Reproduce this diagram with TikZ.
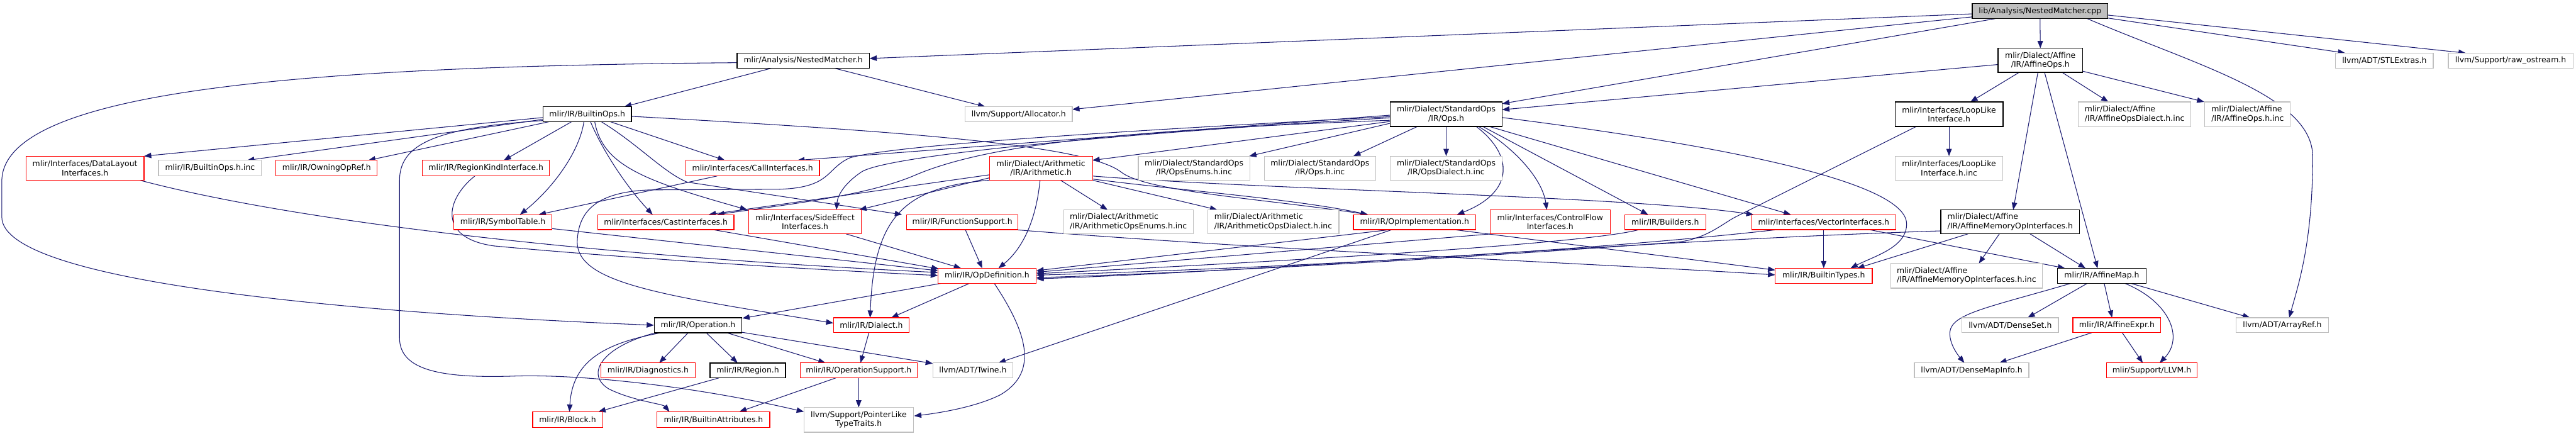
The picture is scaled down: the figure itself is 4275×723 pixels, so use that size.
\documentclass[tikz,border=0pt]{standalone}
\usepackage{fontspec}
\setmainfont{DejaVu Sans}
\usetikzlibrary{arrows.meta,calc}
\definecolor{edgec}{HTML}{191970}
\definecolor{redc}{HTML}{FF0000}
\definecolor{grayc}{HTML}{BFBFBF}
\pgfdeclarelayer{bg}
\pgfsetlayers{bg,main}
\newcommand\mknode[7]{\node[#1,minimum width=#5pt,minimum height=#6pt] (#2) at (#3,#4) {#7};}
\begin{document}
\begin{tikzpicture}[x=1pt,y=-1pt,
  box/.style={rectangle, inner sep=0pt, font=\fontsize{13}{14.7}\selectfont, fill=white},
  bbox/.style={box, draw=black, line width=1.5pt},
  rbox/.style={box, draw=redc, line width=1.2pt},
  gbox/.style={box, draw=grayc, line width=1.2pt},
  e/.style={draw=edgec, line width=1.1pt, -{Triangle[length=12pt,width=9pt]}}]
\useasboundingbox (0,0) rectangle (4275,723);

% row 0
\mknode{bbox,fill=grayc}{cpp}{3385.5}{18.5}{225}{25}{lib/Analysis/NestedMatcher.cpp}
% row 1
\mknode{bbox}{nm}{1333}{100.5}{220}{25}{mlir/Analysis/NestedMatcher.h}
\mknode{bbox,align=center}{aops}{3386}{100}{140}{40}{mlir/Dialect/Affine\\/IR/AffineOps.h}
\mknode{gbox}{stl}{3957}{100.5}{162}{25}{llvm/ADT/STLExtras.h}
\mknode{gbox}{raw}{4166.5}{100.5}{207}{25}{llvm/Support/raw\_ostream.h}
% row 2
\mknode{bbox}{bops}{974.5}{189.5}{147}{25}{mlir/IR/BuiltinOps.h}
\mknode{gbox}{alloc}{1690.5}{189.5}{178}{25}{llvm/Support/Allocator.h}
\mknode{bbox,align=center}{ops}{2400}{189.5}{186}{41}{mlir/Dialect/StandardOps\\/IR/Ops.h}
\mknode{bbox,align=center}{loop}{3234.5}{189.5}{179}{41}{mlir/Interfaces/LoopLike\\Interface.h}
\mknode{gbox,align=left}{aopsd}{3542.5}{189.5}{187}{41}{mlir/Dialect/Affine\\/IR/AffineOpsDialect.h.inc}
\mknode{gbox,align=left}{aopsinc}{3730}{189.5}{142}{41}{mlir/Dialect/Affine\\/IR/AffineOps.h.inc}
% row 3
\mknode{rbox,align=center}{dl}{141}{279}{196}{40}{mlir/Interfaces/DataLayout\\Interfaces.h}
\mknode{gbox}{bopsinc}{348.5}{279}{171}{26}{mlir/IR/BuiltinOps.h.inc}
\mknode{rbox}{owning}{542}{279}{168}{26}{mlir/IR/OwningOpRef.h}
\mknode{rbox}{rki}{806.5}{279}{211}{26}{mlir/IR/RegionKindInterface.h}
\mknode{rbox}{call}{1249}{279}{222}{26}{mlir/Interfaces/CallInterfaces.h}
\mknode{rbox,align=center}{arith}{1727.5}{279}{171}{40}{mlir/Dialect/Arithmetic\\/IR/Arithmetic.h}
\mknode{gbox,align=center}{opsenum}{1981.5}{279}{185}{40}{mlir/Dialect/StandardOps\\/IR/OpsEnums.h.inc}
\mknode{gbox,align=center}{opsinc}{2190.5}{279}{185}{40}{mlir/Dialect/StandardOps\\/IR/Ops.h.inc}
\mknode{gbox,align=center}{opsdial}{2400}{279}{186}{40}{mlir/Dialect/StandardOps\\/IR/OpsDialect.h.inc}
\mknode{gbox,align=center}{loopinc}{3234.5}{279}{179}{40}{mlir/Interfaces/LoopLike\\Interface.h.inc}
% row 4
\mknode{rbox}{sym}{834.5}{368.5}{163}{25}{mlir/IR/SymbolTable.h}
\mknode{rbox}{cast}{1105}{368.5}{226}{25}{mlir/Interfaces/CastInterfaces.h}
\mknode{rbox,align=center}{side}{1336}{368}{187}{40}{mlir/Interfaces/SideEffect\\Interfaces.h}
\mknode{rbox}{func}{1597}{368.5}{185}{25}{mlir/IR/FunctionSupport.h}
\mknode{gbox,align=left}{arenum}{1872.5}{368}{215}{40}{mlir/Dialect/Arithmetic\\/IR/ArithmeticOpsEnums.h.inc}
\mknode{gbox,align=left}{ardial}{2113}{368}{218}{40}{mlir/Dialect/Arithmetic\\/IR/ArithmeticOpsDialect.h.inc}
\mknode{rbox}{opimpl}{2347.5}{368.5}{203}{25}{mlir/IR/OpImplementation.h}
\mknode{rbox,align=center}{cf}{2572.5}{368}{199}{40}{mlir/Interfaces/ControlFlow\\Interfaces.h}
\mknode{rbox}{build}{2763.5}{368.5}{135}{25}{mlir/IR/Builders.h}
\mknode{rbox}{vec}{3026.5}{368.5}{239}{25}{mlir/Interfaces/VectorInterfaces.h}
\mknode{bbox,align=left}{amoi}{3336}{368}{230}{40}{mlir/Dialect/Affine\\/IR/AffineMemoryOpInterfaces.h}
% row 5
\mknode{rbox}{opdef}{1638}{457.5}{163}{25}{mlir/IR/OpDefinition.h}
\mknode{rbox}{btypes}{3026.5}{457.5}{161}{25}{mlir/IR/BuiltinTypes.h}
\mknode{gbox,align=left}{amoiinc}{3263.5}{457.5}{251}{41}{mlir/Dialect/Affine\\/IR/AffineMemoryOpInterfaces.h.inc}
\mknode{bbox}{amap}{3488}{457.5}{147}{25}{mlir/IR/AffineMap.h}
% row 6
\mknode{bbox}{op}{1158.5}{539.5}{145}{25}{mlir/IR/Operation.h}
\mknode{rbox}{dial}{1446}{539.5}{126}{25}{mlir/IR/Dialect.h}
\mknode{gbox}{dset}{3336}{539.5}{160}{25}{llvm/ADT/DenseSet.h}
\mknode{rbox}{aexpr}{3513}{539.5}{146}{25}{mlir/IR/AffineExpr.h}
\mknode{gbox}{aref}{3787.5}{539.5}{153}{25}{llvm/ADT/ArrayRef.h}
% row 7
\mknode{rbox}{diag}{1075.5}{614.5}{157}{25}{mlir/IR/Diagnostics.h}
\mknode{bbox}{region}{1241}{614.5}{125}{25}{mlir/IR/Region.h}
\mknode{rbox}{opsup}{1425}{614.5}{194}{25}{mlir/IR/OperationSupport.h}
\mknode{gbox}{twine}{1614.5}{614.5}{133}{25}{llvm/ADT/Twine.h}
\mknode{gbox}{dmi}{3272}{614.5}{190}{25}{llvm/ADT/DenseMapInfo.h}
\mknode{rbox}{llvm}{3571}{614.5}{150}{25}{mlir/Support/LLVM.h}
% row 8
\mknode{rbox}{block}{942}{696}{116}{26}{mlir/IR/Block.h}
\mknode{rbox}{battr}{1184}{696}{187}{26}{mlir/IR/BuiltinAttributes.h}
\mknode{gbox,align=center}{plt}{1425}{696.5}{182}{41}{llvm/Support/PointerLike\\TypeTraits.h}

\begin{pgfonlayer}{bg}
% cpp
\draw[e] ($(cpp)+(-112.5,4.5)$) -- ($(nm)+(110,-3.5)$);
\draw[e] ($(cpp)+(-112.5,9.5)$) -- ($(alloc)+(89,-8)$);
\draw[e] ($(cpp)+(-74.5,12.5)$) -- ($(ops)+(93,-17.5)$);
\draw[e] ($(cpp)+(0,12.5)$) -- ($(aops)+(0,-20)$);
\draw[e] ($(cpp)+(78.5,12.5)$) .. controls (3650,110) and (3838,160) .. (3838,260) .. controls (3838,400) and (3815,470) .. ($(aref)+(11.5,-12.5)$);
\draw[e] ($(cpp)+(112.5,11.5)$) -- ($(stl)+(-65,-12.5)$);
\draw[e] ($(cpp)+(112.5,6.5)$) -- ($(raw)+(-74.5,-12.5)$);
% aops
\draw[e] ($(aops)+(-70,7)$) -- ($(ops)+(93,-7.5)$);
\draw[e] ($(aops)+(-35,20)$) -- ($(loop)+(35.5,-20.5)$);
\draw[e] ($(aops)+(-4,20)$) -- ($(amoi)+(5,-20)$);
\draw[e] ($(aops)+(7,20)$) -- ($(amap)+(-7,-12.5)$);
\draw[e] ($(aops)+(36,20)$) -- ($(aopsd)+(-43.5,-20.5)$);
\draw[e] ($(aops)+(70,18)$) -- ($(aopsinc)+(-72,-20.5)$);
% nm
\draw[e] ($(nm)+(-52,12.5)$) -- ($(bops)+(61.5,-12.5)$);
\draw[e] ($(nm)+(51,12.5)$) -- ($(alloc)+(-55.5,-12.5)$);
\draw[e] ($(nm)+(-110,3.5)$) .. controls (500,110) and (5,150) .. (3,300) -- (3,360) .. controls (3,470) and (600,520) .. (op.west);
% bops
\draw[e] ($(bops)+(-73.5,5.5)$) -- ($(dl)+(98,-20)$);
\draw[e] ($(bops)+(-73.5,8.5)$) -- ($(bopsinc)+(61.5,-13)$);
\draw[e] ($(bops)+(-63.5,12.5)$) -- ($(owning)+(69,-13)$);
\draw[e] ($(bops)+(-73.5,10.5)$) .. controls (720,212) and (663,240) .. (663,300) -- (663,560) .. controls (663,610) and (720,628) .. (850,624) .. controls (960,620) and (1150,640) .. ($(plt)+(-91,-13.5)$);
\draw[e] ($(bops)+(-26,12.5)$) -- ($(rki)+(29.5,-13)$);
\draw[e] ($(bops)+(-5.5,12.5)$) .. controls (962,250) and (920,310) .. ($(sym)+(28.5,-12.5)$);
\draw[e] ($(bops)+(38.5,12.5)$) -- ($(call)+(-46,-13)$);
\draw[e] ($(bops)+(5.5,12.5)$) .. controls (1000,250) and (1040,310) .. ($(cast)+(-22,-12.5)$);
\draw[e] ($(bops)+(12.5,12.5)$) .. controls (1000,275) and (1070,300) .. ($(side)+(-96,-20)$);
\draw[e] ($(bops)+(23.5,12.5)$) .. controls (1060,240) and (1100,285) .. (1140,302) -- ($(func)+(-100,-12.5)$);
\draw[e] ($(bops)+(73.5,3.5)$) .. controls (1500,218) and (1800,240) .. (1860,285) .. controls (1900,318) and (2100,330) .. ($(opimpl)+(-77.5,-12.5)$);
% arith
\draw[e] ($(arith)+(85.5,18)$) .. controls (1950,315) and (2150,330) .. ($(opimpl)+(-77.5,-12.5)$);
\draw[e] ($(arith)+(85.5,13)$) .. controls (2100,315) and (2700,325) .. ($(vec)+(-116.5,-12.5)$);
\draw[e] ($(arith)+(-85.5,11)$) -- ($(cast)+(71,-12.5)$);
\draw[e] ($(arith)+(-85.5,16)$) -- ($(side)+(90,-20)$);
\draw[e] ($(arith)+(-85.5,20)$) .. controls (1500,310) and (1450,360) .. ($(dial)+(-2,-12.5)$);
\draw[e] ($(arith)+(-1.5,20)$) .. controls (1720,360) and (1700,410) .. ($(opdef)+(19,-12.5)$);
\draw[e] ($(arith)+(32.5,20)$) -- ($(arenum)+(-34.5,-20)$);
\draw[e] ($(arith)+(85.5,20)$) -- ($(ardial)+(-93,-20)$);
% ops
\draw[e] ($(ops)+(-93,1.5)$) -- ($(call)+(74,-13)$);
\draw[e] ($(ops)+(-93,4)$) .. controls (1900,215) and (1480,240) .. (1410,262) .. controls (1370,280) and (1380,312) .. (1290,314) -- (1080,315) .. controls (990,318) and (960,350) .. (958,400) .. controls (956,470) and (1100,490) .. ($(dial)+(-63,-3.5)$);
\draw[e] ($(ops)+(-93,6)$) .. controls (1800,225) and (1470,260) .. (1430,285) .. controls (1400,305) and (1390,325) .. ($(side)+(52,-20)$);
\draw[e] ($(ops)+(-93,10)$) .. controls (1900,215) and (1650,235) .. (1520,290) .. controls (1440,325) and (1300,340) .. ($(cast)+(85,-12.5)$);
\draw[e] ($(ops)+(-93,12)$) -- ($(arith)+(85.5,-13)$);
\draw[e] ($(ops)+(-93,15)$) -- ($(opsenum)+(91.5,-20)$);
\draw[e] ($(ops)+(-48,20.5)$) -- ($(opsinc)+(55.5,-20)$);
\draw[e] ($(ops)+(0,20.5)$) -- ($(opsdial)+(0,-20)$);
\draw[e] ($(ops)+(50,20.5)$) .. controls (2515,260) and (2510,320) .. ($(opimpl)+(70.5,-12.5)$);
\draw[e] ($(ops)+(54,20.5)$) .. controls (2520,250) and (2560,300) .. ($(cf)+(-5.5,-20)$);
\draw[e] ($(ops)+(61,20.5)$) -- ($(build)+(-28.5,-12.5)$);
\draw[e] ($(ops)+(72,20.5)$) -- ($(vec)+(-54.5,-12.5)$);
\draw[e] ($(ops)+(93,5.5)$) .. controls (2850,240) and (3160,300) .. (3164,370) .. controls (3166,410) and (3110,425) .. ($(btypes)+(44.5,-12.5)$);
% loop
\draw[e] ($(loop)+(0,20.5)$) -- ($(loopinc)+(0,-20)$);
\draw[e] ($(loop)+(-54.5,20.5)$) -- (2880,360) .. controls (2860,370) and (2830,398) .. (2780,402) .. controls (2400,430) and (2000,452) .. ($(opdef)+(82,3)$);
% amoi
\draw[e] ($(amoi)+(-115,15)$) .. controls (2700,400) and (2100,450) .. ($(opdef)+(82,5)$);
\draw[e] ($(amoi)+(-70,20)$) -- ($(btypes)+(55.5,-12.5)$);
\draw[e] ($(amoi)+(-18,20)$) -- ($(amoiinc)+(20.5,-20.5)$);
\draw[e] ($(amoi)+(33,20)$) -- ($(amap)+(-27,-12.5)$);
% vec
\draw[e] ($(vec)+(0,12.5)$) -- ($(btypes)+(0,-12.5)$);
\draw[e] ($(vec)+(75.5,12.5)$) -- ($(amap)+(-61,-12.5)$);
\draw[e] ($(vec)+(-77.5,12.5)$) .. controls (2600,420) and (2100,445) .. ($(opdef)+(82,-1)$);
% into opdef etc.
\draw[e] ($(opimpl)+(-40.5,12.5)$) -- ($(opdef)+(82,-8.5)$);
\draw[e] ($(opimpl)+(-37.5,12.5)$) -- ($(twine)+(42.5,-12.5)$);
\draw[e] ($(opimpl)+(65.5,12.5)$) -- ($(btypes)+(-80.5,-9.5)$);
\draw[e] ($(cf)+(-97.5,20)$) -- ($(opdef)+(82,-6)$);
\draw[e] ($(build)+(-43.5,12.5)$) .. controls (2650,400) and (2300,425) .. ($(opdef)+(82,-3.5)$);
\draw[e] ($(func)+(5,12.5)$) -- ($(opdef)+(-8,-12.5)$);
\draw[e] ($(func)+(87,12.5)$) .. controls (2100,415) and (2700,440) .. ($(btypes)+(-80.5,-1.5)$);
\draw[e] ($(cast)+(78,12.5)$) -- ($(opdef)+(-80,-11.5)$);
\draw[e] ($(side)+(68,20)$) -- ($(opdef)+(-43,-12.5)$);
\draw[e] ($(sym)+(79.5,10.5)$) -- ($(opdef)+(-81.5,-8.5)$);
\draw[e] ($(dl)+(91,20)$) .. controls (500,370) and (1000,425) .. ($(opdef)+(-81.5,-5.5)$);
\draw[e] ($(rki)+(-18.5,13)$) .. controls (740,330) and (725,395) .. (820,408) .. controls (1000,425) and (1300,445) .. ($(opdef)+(-81.5,-0.5)$);
\draw[e] ($(call)+(-59,13)$) -- ($(sym)+(59.5,-12.5)$);
% opdef out
\draw[e] ($(opdef)+(-76,12.5)$) -- ($(op)+(73.5,-11.5)$);
\draw[e] ($(opdef)+(-29,12.5)$) -- ($(dial)+(33,-12.5)$);
\draw[e] ($(opdef)+(12,12.5)$) .. controls (1710,560) and (1720,620) .. (1660,655) .. controls (1620,675) and (1560,685) .. ($(plt)+(92,-6.5)$);
% op out
\draw[e] ($(op)+(-61.5,12.5)$) .. controls (1000,570) and (950,600) .. ($(block)+(3,-13)$);
\draw[e] ($(op)+(-70.5,12.5)$) .. controls (1000,575) and (970,620) .. (1010,645) .. controls (1050,665) and (1100,670) .. ($(battr)+(-73,-13)$);
\draw[e] ($(op)+(-16.5,12.5)$) -- ($(diag)+(18.5,-12.5)$);
\draw[e] ($(op)+(13.5,12.5)$) -- ($(region)+(-17,-12.5)$);
\draw[e] ($(op)+(47.5,12.5)$) -- ($(opsup)+(-55,-12.5)$);
\draw[e] ($(op)+(71.5,11.5)$) -- ($(twine)+(-66.5,-11.5)$);
% misc
\draw[e] ($(dial)+(-4,12.5)$) -- ($(opsup)+(3,-12.5)$);
\draw[e] ($(opsup)+(-38,12.5)$) -- ($(battr)+(43,-13)$);
\draw[e] ($(opsup)+(0,12.5)$) -- ($(plt)+(0,-20.5)$);
\draw[e] ($(region)+(-48,12.5)$) -- ($(block)+(51,-13)$);
% amap
\draw[e] ($(amap)+(-51,12.5)$) .. controls (3300,510) and (3240,520) .. (3236,550) .. controls (3234,570) and (3250,590) .. ($(dmi)+(-12,-12.5)$);
\draw[e] ($(amap)+(-24,12.5)$) -- ($(dset)+(29,-12.5)$);
\draw[e] ($(amap)+(4,12.5)$) -- ($(aexpr)+(-8,-12.5)$);
\draw[e] ($(amap)+(38,12.5)$) .. controls (3600,500) and (3625,560) .. ($(llvm)+(13,-12.5)$);
\draw[e] ($(amap)+(48,12.5)$) -- ($(aref)+(-53.5,-12.5)$);
\draw[e] ($(aexpr)+(-42,12.5)$) -- ($(dmi)+(46,-12.5)$);
\draw[e] ($(aexpr)+(9,12.5)$) -- ($(llvm)+(-15,-12.5)$);
\end{pgfonlayer}
\end{tikzpicture}
\end{document}
